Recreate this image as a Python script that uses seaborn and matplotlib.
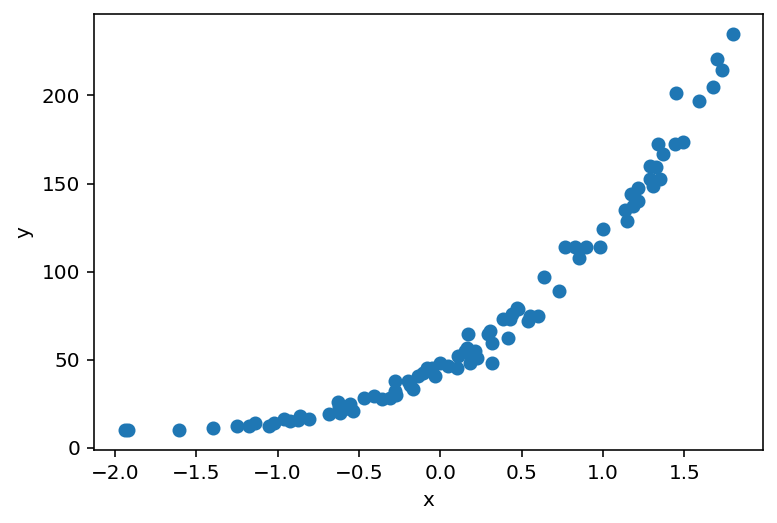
import numpy as np
import pandas as pd
import matplotlib
matplotlib.use("Agg")
import matplotlib.pyplot as plt
import seaborn as sns

# valores
x_vals = [-1.94, -1.92, -1.608, -1.399, -1.249, -1.175, -1.142, -1.055, -1.025,
          -0.963, -0.922, -0.875, -0.86, -0.806,
          -0.687, -0.632, -0.626, -0.615, -0.59, -0.554, -0.534, -0.472, -0.411,
          -0.36, -0.309, -0.278, -0.278, -0.27,
          -0.196, -0.185, -0.166, -0.135, -0.104, -0.083, -0.053, -0.033, -0.002,
          0.049, 0.101, 0.11, 0.152, 0.172, 0.165, 0.182, 0.213, 0.223, 0.19,
          0.295, 0.305, 0.315, 0.315, 0.387, 0.417, 0.438, 0.428, 0.469, 0.479,
          0.54, 0.55, 0.601, 0.638, 0.73,
          0.765, 0.826, 0.853, 0.898, 0.98, 1.0,
          1.133, 1.144, 1.184, 1.174, 1.215, 1.215, 1.287, 1.328, 1.287, 1.307,
          1.348, 1.337, 1.368, 1.44, 1.491,
          1.446, 1.589, 1.675, 1.699, 1.732, 1.798]
y_vals = [10.1, 10.1, 10.1, 11.2, 12.2, 12.7, 14.2, 12.3, 14.2,
          16.5, 15.2, 15.6, 18.4, 16.5,
          19.0, 26.1, 23.5, 19.9, 22.0, 24.7, 20.9, 28.4, 29.4,
          27.5, 28.4, 37.9, 32.2, 30.0,
          37.9, 35.5, 33.2, 40.7, 42.6, 45.5, 45.5, 40.7, 48.3,
          46.4, 45.5, 52.1, 54.9, 64.4, 56.5, 48.3, 54.9, 51.1, 50.0,
          64.4, 66.3, 59.7, 48.3, 73.0, 62.5, 75.8, 73.0, 79.5, 78.6,
          72.0, 74.8, 74.8, 97.0, 89.0,
          114.0, 114.0, 108.0, 114.0, 114.0, 124.1,
          134.9, 128.8, 137.3, 144.3, 147.7, 140.2, 160.1, 159.1, 152.5, 148.7,
          152.5, 172.4, 166.7, 172.4, 173.3,
          201.1, 197.0, 205.0, 220.7, 214.4, 234.9]

df = pd.DataFrame({'x': x_vals, 'y': y_vals})

fig = plt.figure(figsize=(777/144, 523/144), dpi=144)
ax = fig.add_axes([0.1214, 0.1396, 0.861, 0.8336])
sns.scatterplot(data=df, x='x', y='y', ax=ax, s=36, color='#1f77b4',
                edgecolor='#1f77b4', linewidth=1)
ax.set_xlabel('x')
ax.set_ylabel('y')

fig.savefig('out.png', dpi=144)
